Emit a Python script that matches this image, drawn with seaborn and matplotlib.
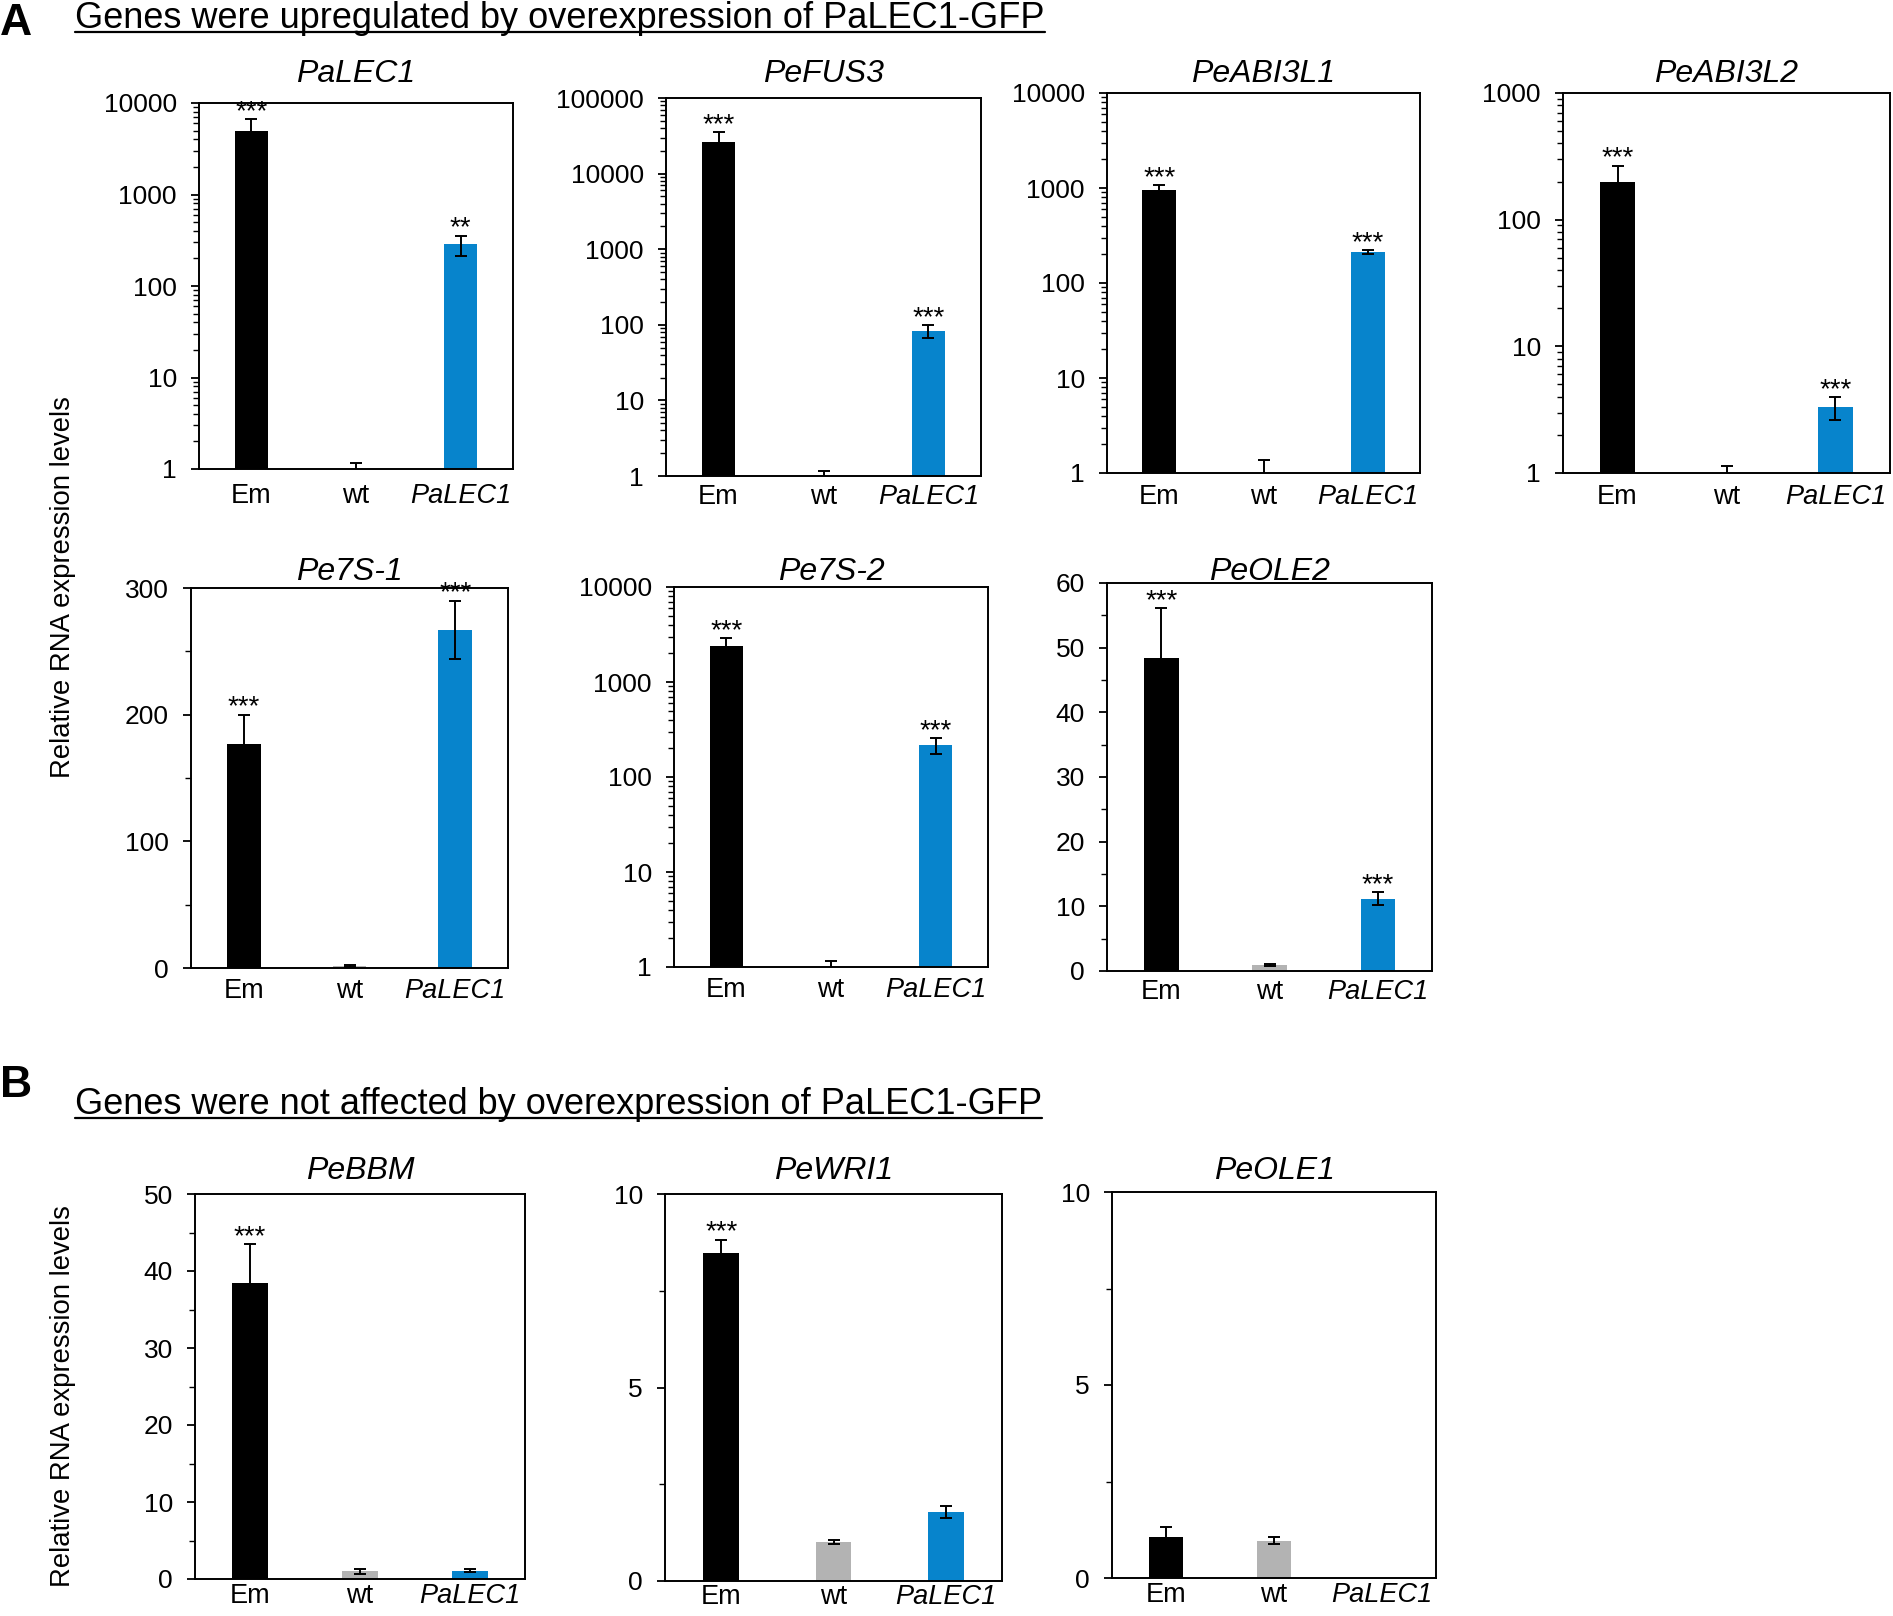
import numpy as np
import matplotlib
matplotlib.use("Agg")
import matplotlib.pyplot as plt
import matplotlib.ticker as mticker
from matplotlib.lines import Line2D
import seaborn as sns

sns.set_theme(style="ticks")
plt.rcParams['font.family'] = ['Liberation Sans', 'DejaVu Sans']
plt.rcParams['text.color'] = 'black'
plt.rcParams['axes.labelcolor'] = 'black'
plt.rcParams['xtick.color'] = 'black'
plt.rcParams['ytick.color'] = 'black'

W, H = 1893, 1616

# --- Daten (Mittelwert, Standardabweichung) ---
groups = ['Em', 'wt', 'PaLEC1']
bar_colors = ['#000000', '#b3b3b3', '#0784cc']

palec1_mean = [5000, 1.0, 285]
palec1_sd = [1700, 0.16, 70]
palec1_stars = ['***', '', '**']

pefus3_mean = [26000, 1.0, 83]
pefus3_sd = [9000, 0.16, 17]
pefus3_stars = ['***', '', '***']

peabi3l1_mean = [950, 1.0, 212]
peabi3l1_sd = [120, 0.38, 12]
peabi3l1_stars = ['***', '', '***']

peabi3l2_mean = [200, 1.0, 3.3]
peabi3l2_sd = [67, 0.14, 0.7]
peabi3l2_stars = ['***', '', '***']

pe7s1_mean = [177, 1.5, 267]
pe7s1_sd = [23, 0.5, 23]
pe7s1_stars = ['***', '', '***']

pe7s2_mean = [2375, 1.0, 215]
pe7s2_sd = [525, 0.16, 40]
pe7s2_stars = ['***', '', '***']

peole2_mean = [48.4, 1.0, 11.2]
peole2_sd = [7.7, 0.15, 1.0]
peole2_stars = ['***', '', '***']

pebbm_mean = [38.5, 1.0, 1.1]
pebbm_sd = [5.0, 0.3, 0.2]
pebbm_stars = ['***', '', '']

pewri1_mean = [8.47, 1.01, 1.78]
pewri1_sd = [0.35, 0.06, 0.15]
pewri1_stars = ['***', '', '']

peole1_mean = [1.06, 0.97, 0.0]
peole1_sd = [0.27, 0.09, 0.0]
peole1_stars = ['', '', '']

# Panels: Gen, Werte, Skala, Achsenobergrenze, Major/Minor (linear)
panels = [
    ('PaLEC1', palec1_mean, palec1_sd, palec1_stars, 'log', 1e4, None, None),
    ('PeFUS3', pefus3_mean, pefus3_sd, pefus3_stars, 'log', 1e5, None, None),
    ('PeABI3L1', peabi3l1_mean, peabi3l1_sd, peabi3l1_stars, 'log', 1e4, None, None),
    ('PeABI3L2', peabi3l2_mean, peabi3l2_sd, peabi3l2_stars, 'log', 1e3, None, None),
    ('Pe7S-1', pe7s1_mean, pe7s1_sd, pe7s1_stars, 'linear', 300, 100, 50),
    ('Pe7S-2', pe7s2_mean, pe7s2_sd, pe7s2_stars, 'log', 1e4, None, None),
    ('PeOLE2', peole2_mean, peole2_sd, peole2_stars, 'linear', 60, 10, 5),
    ('PeBBM', pebbm_mean, pebbm_sd, pebbm_stars, 'linear', 50, 10, 5),
    ('PeWRI1', pewri1_mean, pewri1_sd, pewri1_stars, 'linear', 10, 5, 2.5),
    ('PeOLE1', peole1_mean, peole1_sd, peole1_stars, 'linear', 10, 5, 2.5),
]

# Layout in Pixeln: links, rechts, oben, unten, Titel-Grundlinie, Abstand x-Beschriftung
layout = [
    (199, 513, 103, 469, 82, 10),
    (666, 981, 98, 476, 82, 6),
    (1107, 1420, 93, 473, 82, 8),
    (1563, 1890, 93, 473, 82, 8),
    (191, 508, 588, 968, 580, 7),
    (674, 988, 587, 967, 580, 7),
    (1107, 1432, 583, 971, 580, 6),
    (195, 525, 1194, 1579, 1179, 3),
    (665, 1002, 1194, 1581, 1179, 2),
    (1112, 1436, 1192, 1578, 1179, 3),
]

fig = plt.figure(figsize=(W / 100, H / 100), dpi=100)


def draw_panel(ax, gene, mean, sd, stars, scale, top, major, minor, xpad):
    sns.barplot(x=groups, y=mean, hue=groups, order=groups, hue_order=groups,
                palette=bar_colors, saturation=1, width=0.32, linewidth=0,
                errorbar=None, legend=False, ax=ax)
    pos = np.arange(len(groups))
    mean = np.array(mean, dtype=float)
    sd = np.array(sd, dtype=float)
    has_err = sd > 0
    ax.errorbar(pos[has_err], mean[has_err], yerr=sd[has_err], fmt='none',
                ecolor='black', elinewidth=1.4, capsize=4.5, capthick=1.4, zorder=3)

    if scale == 'log':
        ax.set_yscale('log')
        ax.set_ylim(1, top)
        ax.yaxis.set_major_locator(mticker.LogLocator(base=10, numticks=12))
        ax.yaxis.set_minor_locator(mticker.LogLocator(base=10, subs=np.arange(2, 10), numticks=12))
        ax.yaxis.set_major_formatter(mticker.FuncFormatter(lambda v, p: f'{v:g}'))
        ax.yaxis.set_minor_formatter(mticker.NullFormatter())
    else:
        ax.set_ylim(0, top)
        ax.yaxis.set_major_locator(mticker.MultipleLocator(major))
        ax.yaxis.set_minor_locator(mticker.MultipleLocator(minor))
        ax.yaxis.set_major_formatter(mticker.FuncFormatter(lambda v, p: f'{v:g}'))

    ax.set_xlim(-0.5, 2.5)
    ax.set_xlabel('')
    ax.set_ylabel('')

    for i, s in enumerate(stars):
        if s:
            ax.annotate(s, xy=(pos[i], mean[i] + sd[i]), xytext=(0, 0),
                        textcoords='offset points', ha='center', va='baseline',
                        fontsize=20)

    for sp in ax.spines.values():
        sp.set_visible(True)
        sp.set_color('black')
        sp.set_linewidth(1.4)
    ax.tick_params(axis='y', which='major', direction='out', length=6, width=1.3,
                   labelsize=19, pad=10, colors='black')
    ax.tick_params(axis='y', which='minor', direction='out', length=4, width=1.0,
                   colors='black')
    ax.tick_params(axis='x', which='both', length=0, labelsize=19.5, pad=xpad, colors='black')
    for lbl in ax.get_xticklabels():
        if lbl.get_text() == 'PaLEC1':
            lbl.set_style('italic')


for (gene, mean, sd, stars, scale, top, major, minor), (l, r, t, b, ty, xpad) in zip(panels, layout):
    ax = fig.add_axes([l / W, 1 - b / H, (r - l) / W, (b - t) / H])
    draw_panel(ax, gene, mean, sd, stars, scale, top, major, minor, xpad)
    fig.text((l + r) / 2 / W, 1 - ty / H, gene, ha='center', va='baseline',
             fontsize=23, style='italic')

# Panelbuchstaben und Ueberschriften
fig.text(0 / W, 1 - 35 / H, 'A', ha='left', va='baseline', fontsize=32, fontweight='bold')
fig.text(0 / W, 1 - 1097 / H, 'B', ha='left', va='baseline', fontsize=32, fontweight='bold')
head_a = fig.text(75 / W, 1 - 28 / H, 'Genes were upregulated by overexpression of PaLEC1-GFP',
                  ha='left', va='baseline', fontsize=26)
head_b = fig.text(75 / W, 1 - 1114 / H, 'Genes were not affected by overexpression of PaLEC1-GFP',
                  ha='left', va='baseline', fontsize=26)

fig.text(63 / W, 1 - 587 / H, 'Relative RNA expression levels', rotation=90,
         ha='center', va='center', fontsize=19.8)
fig.text(63 / W, 1 - 1396 / H, 'Relative RNA expression levels', rotation=90,
         ha='center', va='center', fontsize=19.8)

# Unterstreichung der Ueberschriften
renderer = fig.canvas.get_renderer()
for head, uy in [(head_a, 32), (head_b, 1118)]:
    bb = head.get_window_extent(renderer).transformed(fig.transFigure.inverted())
    fig.add_artist(Line2D([bb.x0, bb.x1], [1 - uy / H, 1 - uy / H],
                          transform=fig.transFigure, color='black', linewidth=1.6))

fig.savefig('out.png', dpi=100)
